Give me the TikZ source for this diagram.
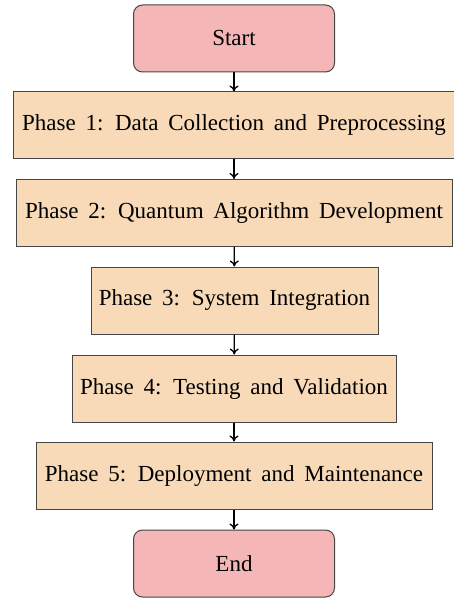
\documentclass[tikz,border=0pt]{standalone}
\usepackage{fontspec}
\setmainfont{Liberation Serif}[WordSpace=1.7]
\usetikzlibrary{arrows.meta}
\definecolor{termfill}{RGB}{244,182,182}
\definecolor{phasefill}{RGB}{248,218,184}
\definecolor{edgegray}{RGB}{70,70,70}
\tikzset{
  termbox/.style={draw=edgegray, line width=1pt, fill=termfill, rounded corners=9pt, minimum width=201pt, minimum height=67pt, inner sep=2pt, font=\fontsize{23}{27}\selectfont},
  phasebox/.style={draw=edgegray, line width=1pt, fill=phasefill, minimum height=67pt, inner xsep=2pt, font=\fontsize{23}{27}\selectfont},
  flow/.style={-{To[length=6pt,width=9pt]}, line width=1.3pt, black}
}
\begin{document}
\begin{tikzpicture}[x=1pt,y=-1pt]
\useasboundingbox (0,0) rectangle (454,601);
\node[termbox] (start) at (234,38.5) {Start};
\node[phasebox, minimum width=442pt] (p1) at (234,125.5) {Phase 1: Data Collection and Preprocessing};
\node[phasebox, minimum width=436pt] (p2) at (234,213) {Phase 2: Quantum Algorithm Development};
\node[phasebox, minimum width=287pt] (p3) at (234.5,300.5) {Phase 3: System Integration};
\node[phasebox, minimum width=324pt] (p4) at (234,388.5) {Phase 4: Testing and Validation};
\node[phasebox, minimum width=396pt] (p5) at (234,475.5) {Phase 5: Deployment and Maintenance};
\node[termbox] (end) at (234,563.5) {End};
\draw[flow] (start) -- (p1);
\draw[flow] (p1) -- (p2);
\draw[flow] (p2) -- (p3);
\draw[flow] (p3) -- (p4);
\draw[flow] (p4) -- (p5);
\draw[flow] (p5) -- (end);
\end{tikzpicture}
\end{document}
